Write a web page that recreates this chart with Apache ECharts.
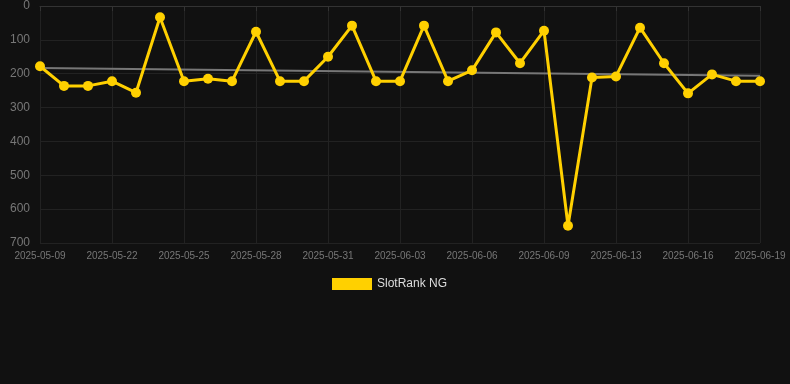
<!DOCTYPE html>
<html><head><meta charset="utf-8">
<script src="https://cdn.jsdelivr.net/npm/echarts@6/dist/echarts.min.js"></script>
<style>html,body{margin:0;padding:0;background:#111111;}#c{width:790px;height:384px;}</style>
</head><body><div id="c"></div>
<script>
var categories = ['2025-05-09','2025-05-20','2025-05-21','2025-05-22','2025-05-23','2025-05-24','2025-05-25','2025-05-26','2025-05-27','2025-05-28','2025-05-29','2025-05-30','2025-05-31','2025-06-01','2025-06-02','2025-06-03','2025-06-04','2025-06-05','2025-06-06','2025-06-07','2025-06-08','2025-06-09','2025-06-10','2025-06-11','2025-06-13','2025-06-14','2025-06-15','2025-06-16','2025-06-17','2025-06-18','2025-06-19'];
var rankValues = [178,236,236,222,256,33,222,215,222,76,222,222,150,58,222,222,58,222,190,78,169,73,649,211,208,64,169,258,202,222,222];
var trendStart = 183;
var trendEnd = 206;
var seriesName = 'SlotRank NG';

var chart = echarts.init(document.getElementById('c'));
chart.setOption({
  backgroundColor: '#111111',
  animation: false,
  grid: {left: 40, right: 30, top: 6, bottom: 141},
  legend: {
    data: [seriesName], top: 278, left: 332,
    itemWidth: 40, itemHeight: 12, icon: 'rect', padding: 0, itemGap: 6,
    textStyle: {color: '#dddddd', fontSize: 12, fontFamily: 'Liberation Sans, Arial, sans-serif'}
  },
  xAxis: {
    type: 'category', data: categories, boundaryGap: false,
    axisLine: {lineStyle: {color: '#333333'}},
    axisTick: {show: true, interval: 2, lineStyle: {color: '#333333'}},
    axisLabel: {interval: 2, color: '#777777', fontSize: 10, fontFamily: 'Liberation Sans, Arial, sans-serif', margin: 8},
    splitLine: {show: true, interval: 2, lineStyle: {color: '#222222'}}
  },
  yAxis: {
    type: 'value', inverse: true, min: 0, max: 700, interval: 100,
    axisLine: {show: false}, axisTick: {show: false},
    axisLabel: {color: '#777777', fontSize: 12, fontFamily: 'Liberation Sans, Arial, sans-serif', margin: 10},
    splitLine: {lineStyle: {color: '#222222'}}
  },
  series: [
    {
      name: seriesName, type: 'line', data: rankValues,
      symbol: 'circle', symbolSize: 10,
      lineStyle: {color: '#ffd000', width: 3},
      itemStyle: {color: '#ffd000'},
      z: 3
    },
    {
      name: 'trend', type: 'line',
      data: [[categories[0], trendStart], [categories[categories.length-1], trendEnd]],
      symbol: 'none', lineStyle: {color: '#777777', width: 2},
      z: 2
    }
  ]
});
</script></body></html>
